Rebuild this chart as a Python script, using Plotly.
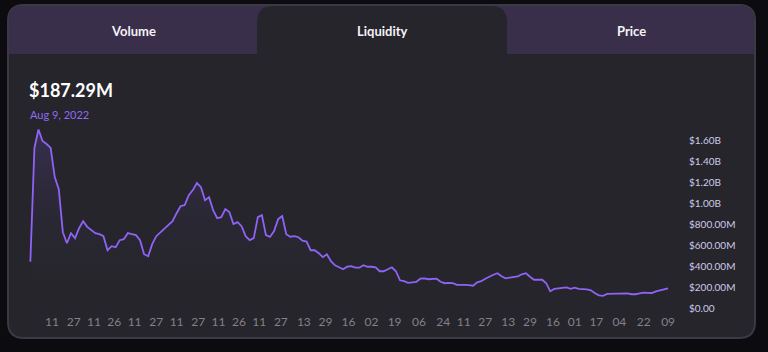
import pandas as pd
import plotly.graph_objects as go

# ---------------- data ----------------
start_date = "2021-04-25"
step_days = 3
liquidity_musd = [
    440, 1524, 1700, 1590, 1562, 1524, 1247, 1132, 722, 617,
    713, 665, 760, 827, 773, 741, 713, 703, 684, 550,
    589, 579, 646, 655, 713, 703, 694, 646, 512, 493,
    608, 684, 722, 751, 799, 827, 903, 970, 980, 1075,
    1123, 1190, 1151, 1027, 1056, 932, 856, 865, 942, 913,
    799, 818, 779, 684, 646, 665, 865, 884, 694, 677,
    732, 846, 875, 703, 679, 684, 674, 641, 632, 550,
    550, 522, 484, 512, 446, 407, 388, 369, 393, 398,
    384, 384, 407, 393, 393, 388, 350, 350, 369, 388,
    350, 264, 255, 240, 245, 248, 279, 283, 274, 274,
    279, 250, 236, 240, 236, 221, 223, 221, 217, 212,
    245, 255, 279, 302, 317, 331, 302, 283, 288, 293,
    302, 321, 331, 298, 269, 269, 269, 236, 159, 183,
    188, 193, 197, 183, 193, 183, 183, 178, 169, 140,
    121, 116, 135, 135, 135, 137, 140, 140, 131, 131,
    140, 147, 145, 143, 159, 169, 178, 187.29,
]
dates = pd.date_range(start_date, periods=len(liquidity_musd), freq=f"{step_days}D")

x_tick_dates = [
    "2021-05-11", "2021-05-27", "2021-06-11", "2021-06-26", "2021-07-11",
    "2021-07-27", "2021-08-11", "2021-08-27", "2021-09-11", "2021-09-26",
    "2021-10-11", "2021-10-27", "2021-11-13", "2021-11-29", "2021-12-16",
    "2022-01-02", "2022-01-19", "2022-02-06", "2022-02-24", "2022-03-11",
    "2022-03-27", "2022-04-13", "2022-04-29", "2022-05-16", "2022-06-01",
    "2022-06-17", "2022-07-04", "2022-07-22", "2022-08-09",
]
x_tick_labels = [d[-2:] for d in x_tick_dates]

y_tick_values = [0, 200e6, 400e6, 600e6, 800e6, 1.0e9, 1.2e9, 1.4e9, 1.6e9]
y_tick_labels = ["$0.00", "$200.00M", "$400.00M", "$600.00M", "$800.00M",
                 "$1.00B", "$1.20B", "$1.40B", "$1.60B"]

tab_labels = ["Volume", "Liquidity", "Price"]
headline_value = "$187.29M"
headline_date = "Aug 9, 2022"

values_usd = [v * 1e6 for v in liquidity_musd]

# ---------------- layout geometry (pixels) ----------------
WIDTH, HEIGHT = 768, 352
L, R, T, B = 29, 675, 120, 308
PW, PH = R - L, B - T


def px(xp):
    return (xp - L) / PW


def py(yp):
    return (B - yp) / PH


def rounded_path(x0, y0, x1, y1, r_tl, r_tr, r_br, r_bl):
    def P(a, b):
        return f"{px(a):.5f},{py(b):.5f}"
    return (
        f"M {P(x0 + r_tl, y0)} L {P(x1 - r_tr, y0)} Q {P(x1, y0)} {P(x1, y0 + r_tr)} "
        f"L {P(x1, y1 - r_br)} Q {P(x1, y1)} {P(x1 - r_br, y1)} "
        f"L {P(x0 + r_bl, y1)} Q {P(x0, y1)} {P(x0, y1 - r_bl)} "
        f"L {P(x0, y0 + r_tl)} Q {P(x0, y0)} {P(x0 + r_tl, y0)} Z"
    )


CARD_BG = "#26252b"
TAB_BG = "#3a2f4a"
PAGE_BG = "#0c0b10"
LINE = "#8e63f5"

shapes = [
    dict(type="path", xref="paper", yref="paper", layer="below",
         path=rounded_path(8, 5, 755, 338, 16, 16, 16, 16),
         fillcolor=CARD_BG, line=dict(color="#3b3945", width=2)),
    dict(type="path", xref="paper", yref="paper", layer="below",
         path=rounded_path(9, 6, 754, 54, 15, 15, 0, 0),
         fillcolor=TAB_BG, line=dict(width=0)),
    dict(type="path", xref="paper", yref="paper", layer="below",
         path=rounded_path(257, 6, 507, 55, 16, 16, 0, 0),
         fillcolor=CARD_BG, line=dict(width=0)),
]

FONT = "Lato"
annotations = []
for label, cx in zip(tab_labels, [133, 382, 631]):
    annotations.append(dict(
        text=f"<b>{label}</b>", x=px(cx), y=py(31), xref="paper", yref="paper",
        showarrow=False, xanchor="center", yanchor="middle",
        font=dict(family=FONT, size=13, color="#f4f2f8")))
annotations.append(dict(
    text=f"<b>{headline_value}</b>", x=px(27), y=py(90), xref="paper", yref="paper",
    showarrow=False, xanchor="left", yanchor="middle",
    font=dict(family=FONT, size=18, color="#ffffff")))
annotations.append(dict(
    text=headline_date, x=px(28), y=py(114), xref="paper", yref="paper",
    showarrow=False, xanchor="left", yanchor="middle",
    font=dict(family=FONT, size=11, color="#8f6cf2")))

fig = go.Figure()
fig.add_trace(go.Scatter(
    x=dates, y=values_usd, mode="lines",
    line=dict(color=LINE, width=1.8),
    fill="tozeroy",
    fillgradient=dict(type="vertical",
                      colorscale=[[0, "rgba(38,37,43,0)"],
                                  [1, "rgba(110,80,200,0.24)"]]),
    hoverinfo="skip", showlegend=False,
))

x0 = pd.Timestamp("2021-04-24")
x1 = x0 + pd.Timedelta(days=PW / 1.354)
y_top = 1.6e9 * (B - T) / (B - 140)

fig.update_layout(
    width=WIDTH, height=HEIGHT,
    margin=dict(l=L, r=WIDTH - R, t=T, b=HEIGHT - B, pad=0),
    paper_bgcolor=PAGE_BG, plot_bgcolor="rgba(0,0,0,0)",
    shapes=shapes, annotations=annotations, showlegend=False,
    xaxis=dict(range=[x0, x1], tickmode="array", tickvals=x_tick_dates,
               ticktext=x_tick_labels, showgrid=False, zeroline=False,
               showline=False, ticks="outside", ticklen=3,
               tickcolor="rgba(0,0,0,0)", automargin=False,
               tickfont=dict(family=FONT, size=12, color="#83818a")),
    yaxis=dict(range=[0, y_top], side="right", tickmode="array",
               tickvals=y_tick_values, ticktext=y_tick_labels,
               showgrid=False, zeroline=False, showline=False,
               ticks="outside", ticklen=11, tickcolor="rgba(0,0,0,0)",
               automargin=False,
               tickfont=dict(family=FONT, size=10, color="#cdcbea")),
)

fig.write_html("out.html")
